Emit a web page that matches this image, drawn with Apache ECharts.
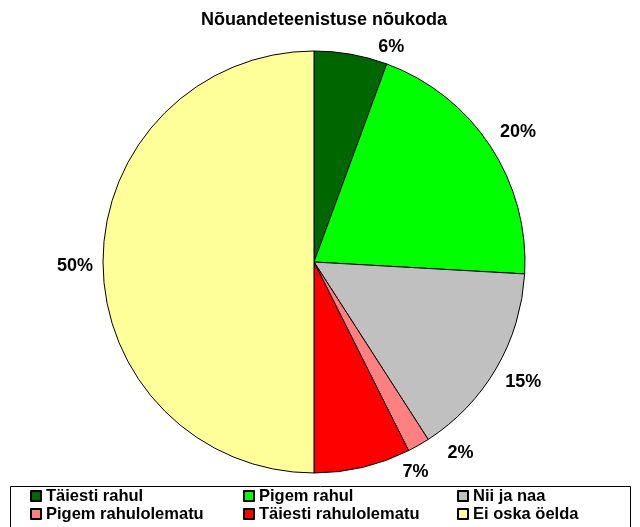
<!DOCTYPE html>
<html>
<head>
<meta charset="utf-8">
<script src="https://cdn.jsdelivr.net/npm/echarts@6/dist/echarts.min.js"></script>
<style>
  html, body { margin: 0; padding: 0; background: #fff; }
  #chart { width: 640px; height: 527px; }
</style>
</head>
<body>
<div id="chart"></div>
<script>
const names = ['Täiesti rahul', 'Pigem rahul', 'Nii ja naa', 'Pigem rahulolematu', 'Täiesti rahulolematu', 'Ei oska öelda']
const shares = [5.6, 20.3, 15.0, 1.7, 7.4, 50.0]
const colors = ['#006600', '#00ff00', '#c0c0c0', '#ff8080', '#ff0000', '#ffff99']

// legend columns as in the original (two rows, three columns)
const legendCols = [
    [names[0], names[3]],
    [names[1], names[4]],
    [names[2], names[5]]
]
const legendLeft = [30, 243, 457]

// nudges for the percent labels, Excel put them a bit off the radial line
const labelNudge = [[21, 1], [-2, -10], [-3, 10], [20, 1], [33, -3], [3, 4]]

const font = "'Liberation Sans', Arial, sans-serif"

const chart = echarts.init(document.getElementById('chart'))

const option = {
    animation: false,
    color: colors,
    title: {
        text: 'Nõuandeteenistuse nõukoda',
        left: 324,
        top: 11,
        textAlign: 'center',
        padding: 0,
        textStyle: { fontFamily: font, fontSize: 18, fontWeight: 'bold', color: '#000' }
    },
    legend: legendCols.map((col, i) => ({
        orient: 'vertical',
        left: legendLeft[i],
        top: 487,
        padding: 0,
        itemGap: 0,
        itemWidth: 10,
        itemHeight: 10,
        icon: 'rect',
        selectedMode: false,
        data: col,
        textStyle: { fontFamily: font, fontSize: 16.5, fontWeight: 'bold', color: '#000', lineHeight: 18 }
    })),
    graphic: [{
        type: 'rect',
        shape: { x: 10.5, y: 486.5, width: 620, height: 60 },
        style: { fill: 'none', stroke: '#000', lineWidth: 1 },
        silent: true
    }],
    series: [{
        type: 'pie',
        center: [314, 262],
        radius: 211,
        startAngle: 90,
        clockwise: true,
        avoidLabelOverlap: false,
        itemStyle: { borderColor: '#000', borderWidth: 1 },
        label: {
            show: true,
            position: 'outside',
            fontFamily: font,
            fontSize: 18,
            fontWeight: 'bold',
            color: '#000',
            formatter: p => Math.round(p.percent) + '%'
        },
        labelLine: { show: false, length: 8, length2: 0 },
        emphasis: { disabled: true },
        data: names.map((n, i) => ({
            name: n,
            value: shares[i],
            label: { offset: labelNudge[i] }
        }))
    }]
}

chart.setOption(option)
</script>
</body>
</html>
